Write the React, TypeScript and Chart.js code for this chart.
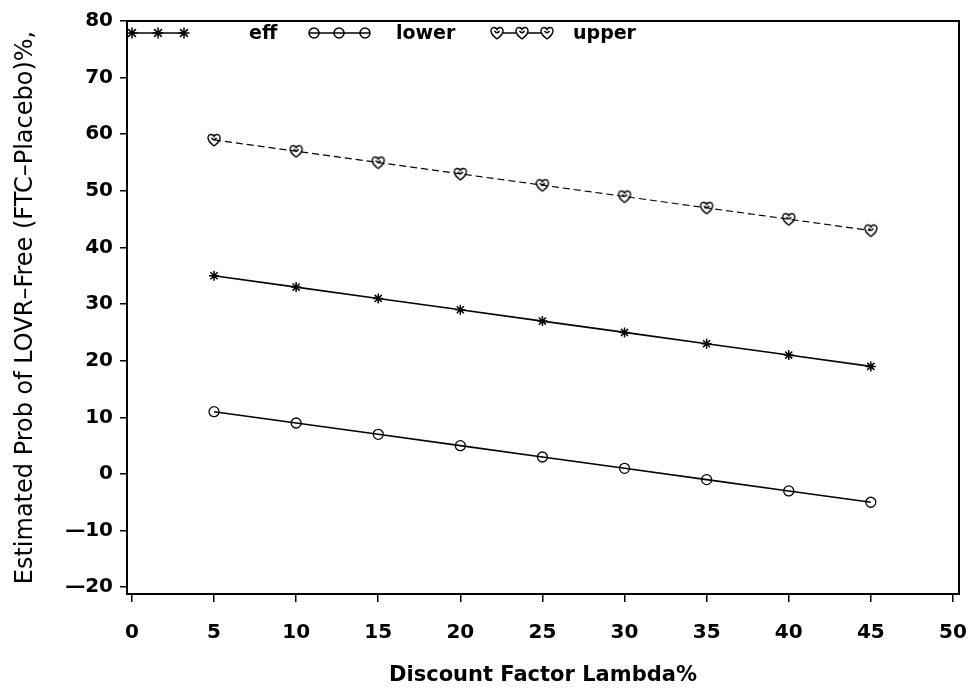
import React, { useEffect, useRef } from 'react';
import { Chart, registerables } from 'chart.js';

Chart.register(...registerables);

const lambdaValues = [5, 10, 15, 20, 25, 30, 35, 40, 45];
const effValues = [35, 33, 31, 29, 27, 25, 23, 21, 19];
const lowerValues = [11, 9, 7, 5, 3, 1, -1, -3, -5];
const upperValues = [59, 57, 55, 53, 51, 49, 47, 45, 43];
const xTickValues = [0, 5, 10, 15, 20, 25, 30, 35, 40, 45, 50];
const yTickValues = [-20, -10, 0, 10, 20, 30, 40, 50, 60, 70, 80];
const seriesNames = ['eff', 'lower', 'upper'];
const xTitle = 'Discount Factor Lambda%';
const yTitle = 'Estimated Prob of LOVR\u2013Free (FTC\u2013Placebo)%,';

const BOLD = "'DejaVu Sans', 'Liberation Sans', sans-serif";

function makeHeart(): HTMLCanvasElement {
  const c = document.createElement('canvas');
  c.width = 16;
  c.height = 16;
  const ctx = c.getContext('2d')!;
  ctx.strokeStyle = '#000';
  ctx.lineWidth = 1.4;
  ctx.beginPath();
  ctx.moveTo(8, 14);
  ctx.bezierCurveTo(4, 11, 1.5, 8, 2, 5);
  ctx.bezierCurveTo(2.5, 2, 6.5, 1.5, 8, 4.5);
  ctx.bezierCurveTo(9.5, 1.5, 13.5, 2, 14, 5);
  ctx.bezierCurveTo(14.5, 8, 12, 11, 8, 14);
  ctx.stroke();
  ctx.beginPath();
  ctx.moveTo(5.5, 6);
  ctx.quadraticCurveTo(8, 9.5, 10.5, 6);
  ctx.stroke();
  return c;
}

function drawStar(ctx: CanvasRenderingContext2D, x: number, y: number, r: number) {
  ctx.beginPath();
  for (let i = 0; i < 4; i++) {
    const a = (i * Math.PI) / 4;
    ctx.moveTo(x - r * Math.cos(a), y - r * Math.sin(a));
    ctx.lineTo(x + r * Math.cos(a), y + r * Math.sin(a));
  }
  ctx.stroke();
}

export default function App() {
  const ref = useRef<HTMLCanvasElement>(null);

  useEffect(() => {
    if (!ref.current) return;
    const heart = makeHeart();

    const boxPlugin = {
      id: 'boxPlugin',
      afterDraw(chart: any) {
        const { ctx, chartArea } = chart;
        ctx.save();
        ctx.strokeStyle = '#000';
        ctx.lineWidth = 2;
        ctx.strokeRect(chartArea.left, chartArea.top, chartArea.right - chartArea.left, chartArea.bottom - chartArea.top);
        ctx.restore();
      },
    };

    const legendPlugin = {
      id: 'sasLegend',
      afterDraw(chart: any) {
        const { ctx, chartArea } = chart;
        const y = chartArea.top + 12;
        const x0 = chartArea.left;
        const items = [
          { kind: 'star', m: [5, 31, 57], tx: 122, text: seriesNames[0] },
          { kind: 'circle', m: [187, 212, 238], tx: 269, text: seriesNames[1] },
          { kind: 'heart', m: [370, 395, 420], tx: 446, text: seriesNames[2] },
        ];
        ctx.save();
        ctx.strokeStyle = '#000';
        ctx.fillStyle = '#000';
        ctx.lineWidth = 1.5;
        for (const it of items) {
          ctx.beginPath();
          ctx.moveTo(x0 + it.m[0], y);
          ctx.lineTo(x0 + it.m[2], y);
          ctx.stroke();
          for (const mx of it.m) {
            const px = x0 + mx;
            if (it.kind === 'star') {
              drawStar(ctx, px, y, 5.5);
            } else if (it.kind === 'circle') {
              ctx.beginPath();
              ctx.arc(px, y, 5, 0, Math.PI * 2);
              ctx.fillStyle = '#fff';
              ctx.fill();
              ctx.stroke();
              ctx.beginPath();
              ctx.moveTo(px - 5, y);
              ctx.lineTo(px + 5, y);
              ctx.stroke();
              ctx.fillStyle = '#000';
            } else {
              ctx.fillStyle = '#fff';
              ctx.fillRect(px - 6, y - 6, 12, 12);
              ctx.fillStyle = '#000';
              ctx.drawImage(heart, px - 8, y - 8);
            }
          }
          ctx.font = `bold 19px ${BOLD}`;
          ctx.textBaseline = 'middle';
          ctx.textAlign = 'left';
          ctx.fillText(it.text, x0 + it.tx, y + 1);
        }
        ctx.restore();
      },
    };

    const toPts = (vals: number[]) => lambdaValues.map((x, i) => ({ x, y: vals[i] }));

    const chart = new Chart(ref.current, {
      type: 'line',
      data: {
        datasets: [
          {
            label: seriesNames[0],
            data: toPts(effValues),
            borderColor: '#000',
            borderWidth: 1.6,
            pointStyle: 'star',
            pointRadius: 5,
            pointBorderWidth: 1.5,
            pointBorderColor: '#000',
            pointBackgroundColor: '#000',
          },
          {
            label: seriesNames[1],
            data: toPts(lowerValues),
            borderColor: '#000',
            borderWidth: 1.6,
            pointStyle: 'circle',
            pointRadius: 5,
            pointBorderWidth: 1.3,
            pointBorderColor: '#000',
            pointBackgroundColor: 'rgba(0,0,0,0)',
          },
          {
            label: seriesNames[2],
            data: toPts(upperValues),
            borderColor: '#000',
            borderWidth: 1.2,
            borderDash: [7, 4],
            pointStyle: heart as any,
            pointRadius: 6,
            pointBorderColor: '#000',
          },
        ],
      },
      options: {
        animation: false,
        responsive: false,
        devicePixelRatio: 1,
        layout: { padding: { left: 0, right: 12, top: 21, bottom: 0 } },
        plugins: { legend: { display: false }, tooltip: { enabled: false } },
        scales: {
          x: {
            type: 'linear',
            min: -0.3,
            max: 50.37,
            afterBuildTicks: (s: any) => {
              s.ticks = xTickValues.map((v) => ({ value: v }));
            },
            afterFit: (s: any) => {
              s.height = 94;
              s.paddingLeft = 0;
              s.paddingRight = 0;
            },
            grid: { drawOnChartArea: false, drawTicks: true, tickLength: 8, color: '#000', lineWidth: 1.5 },
            border: { display: true, color: '#000', width: 2 },
            ticks: {
              color: '#000',
              padding: 19,
              maxRotation: 0,
              font: { family: BOLD, size: 20, weight: 'bold' },
            },
            title: {
              display: true,
              text: xTitle,
              color: '#000',
              font: { family: BOLD, size: 21, weight: 'bold' },
              padding: { top: 0, bottom: 0 },
            },
          },
          y: {
            type: 'linear',
            min: -21.2,
            max: 80,
            afterBuildTicks: (s: any) => {
              s.ticks = yTickValues.map((v) => ({ value: v }));
            },
            afterFit: (s: any) => {
              s.width = 127;
            },
            grid: { drawOnChartArea: false, drawTicks: true, tickLength: 7, color: '#000', lineWidth: 1.5 },
            border: { display: true, color: '#000', width: 2 },
            ticks: {
              color: '#000',
              padding: 7,
              font: { family: BOLD, size: 20, weight: 'bold' },
              callback: (v: any) => (Number(v) < 0 ? '\u2014' + Math.abs(Number(v)) : String(v)),
            },
            title: {
              display: true,
              text: yTitle,
              color: '#000',
              font: { family: "'DejaVu Sans', sans-serif", size: 24, weight: 'normal' },
              padding: { top: 11, bottom: 0 },
            },
          },
        },
      },
      plugins: [boxPlugin, legendPlugin],
    });

    return () => chart.destroy();
  }, []);

  return (
    <div style={{ position: 'fixed', left: 0, top: 0, width: 971, height: 688, background: '#fff' }}>
      <canvas ref={ref} width={971} height={688} style={{ display: 'block' }} />
    </div>
  );
}
